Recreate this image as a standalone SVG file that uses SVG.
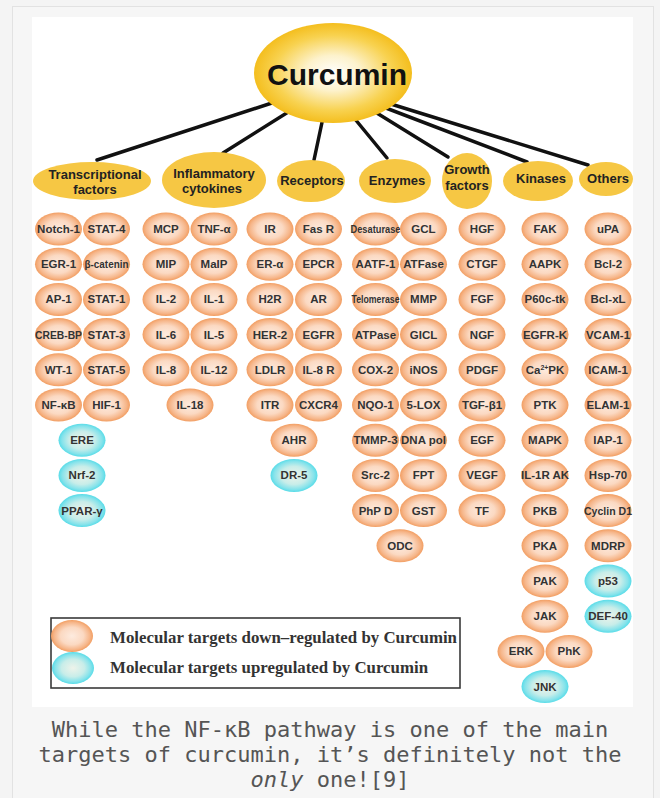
<svg xmlns="http://www.w3.org/2000/svg" width="660" height="798" viewBox="0 0 660 798">
<defs>
<radialGradient id="gCur" cx="50%" cy="50%" r="50%">
<stop offset="0" stop-color="#ffffff"/>
<stop offset="0.35" stop-color="#fdf2cc"/>
<stop offset="0.75" stop-color="#f8d250"/>
<stop offset="1" stop-color="#f4be1e"/>
</radialGradient>
<radialGradient id="gO" cx="50%" cy="50%" r="50%">
<stop offset="0" stop-color="#fdebdf"/>
<stop offset="0.55" stop-color="#fbd9c2"/>
<stop offset="0.85" stop-color="#f6b68a"/>
<stop offset="1" stop-color="#f29e62"/>
</radialGradient>
<radialGradient id="gC" cx="50%" cy="50%" r="50%">
<stop offset="0" stop-color="#eef3ea"/>
<stop offset="0.55" stop-color="#c8ede9"/>
<stop offset="0.85" stop-color="#86e3eb"/>
<stop offset="1" stop-color="#58dce8"/>
</radialGradient>
</defs>
<style>
.o ellipse{fill:url(#gO)}
.c ellipse{fill:url(#gC)}
.n text{font-family:"Liberation Sans",Arial,sans-serif;font-weight:bold;font-size:11.5px;fill:#333;text-anchor:middle}
.n text.sq{font-size:10.5px;text-anchor:start}
.cat ellipse{fill:#f6c744}
.cat text{font-family:"Liberation Sans",Arial,sans-serif;font-weight:bold;font-size:13px;fill:#222;text-anchor:middle}
.conn line{stroke:#111;stroke-width:3.5;stroke-linecap:round}
.leg text{font-family:"Liberation Serif","Times New Roman",serif;font-weight:bold;font-size:17px;fill:#333}
.cap{font-family:"DejaVu Sans Mono","Liberation Mono",monospace;font-size:22px;fill:#555;text-anchor:middle}
</style>
<rect width="660" height="798" fill="#f4f4f4"/>
<rect x="12.5" y="6.5" width="641" height="800" fill="#f6f6f6" stroke="#e2e2e2"/>
<rect x="32" y="17" width="601" height="690" fill="#ffffff"/>

<g id="connectors" class="conn">
<line x1="281" y1="100" x2="97" y2="160"/>
<line x1="301" y1="104" x2="223" y2="153"/>
<line x1="324" y1="113" x2="314" y2="160"/>
<line x1="350" y1="113" x2="387" y2="158"/>
<line x1="359" y1="102" x2="448" y2="157"/>
<line x1="365" y1="100" x2="527" y2="162"/>
<line x1="365" y1="96" x2="588" y2="165"/>
</g>

<g id="curcumin">
<ellipse cx="333" cy="73" rx="79" ry="50" fill="url(#gCur)"/>
<text x="337" y="85" font-family="'Liberation Sans',Arial,sans-serif" font-weight="bold" font-size="30" fill="#111" text-anchor="middle">Curcumin</text>
</g>

<g id="cat-transcriptional" class="cat"><ellipse cx="92" cy="181" rx="59" ry="19"/><text x="95" y="179">Transcriptional</text><text x="95" y="194">factors</text></g>
<g id="cat-inflammatory" class="cat"><ellipse cx="214" cy="180" rx="52" ry="28"/><text x="214" y="178">Inflammatory</text><text x="212" y="193">cytokines</text></g>
<g id="cat-receptors" class="cat"><ellipse cx="311" cy="181" rx="34" ry="21"/><text x="312" y="185">Receptors</text></g>
<g id="cat-enzymes" class="cat"><ellipse cx="395" cy="181" rx="36" ry="22"/><text x="397" y="185">Enzymes</text></g>
<g id="cat-growth" class="cat"><ellipse cx="467" cy="181" rx="25" ry="28"/><text x="467" y="174">Growth</text><text x="467" y="190">factors</text></g>
<g id="cat-kinases" class="cat"><ellipse cx="538" cy="181" rx="35" ry="20"/><text x="541" y="183">Kinases</text></g>
<g id="cat-others" class="cat"><ellipse cx="606" cy="179" rx="27" ry="17"/><text x="608" y="183">Others</text></g>

<!-- Transcriptional factors -->
<g id="n-notch1" class="n o" transform="translate(58.5,229)"><ellipse rx="23.5" ry="16.5"/><text y="4">Notch-1</text></g>
<g id="n-stat4" class="n o" transform="translate(106.5,229)"><ellipse rx="23.5" ry="16.5"/><text y="4">STAT-4</text></g>
<g id="n-egr1" class="n o" transform="translate(58.5,264.2)"><ellipse rx="23.5" ry="16.5"/><text y="4">EGR-1</text></g>
<g id="n-bcatenin" class="n o" transform="translate(106.5,264.2)"><ellipse rx="23.5" ry="16.5"/><text class="sq" x="-22" y="4" textLength="44" lengthAdjust="spacingAndGlyphs">β-catenin</text></g>
<g id="n-ap1" class="n o" transform="translate(58.5,299.4)"><ellipse rx="23.5" ry="16.5"/><text y="4">AP-1</text></g>
<g id="n-stat1" class="n o" transform="translate(106.5,299.4)"><ellipse rx="23.5" ry="16.5"/><text y="4">STAT-1</text></g>
<g id="n-crebbp" class="n o" transform="translate(58.5,334.6)"><ellipse rx="23.5" ry="16.5"/><text class="sq" x="-23.5" y="4" textLength="47" lengthAdjust="spacingAndGlyphs">CREB-BP</text></g>
<g id="n-stat3" class="n o" transform="translate(106.5,334.6)"><ellipse rx="23.5" ry="16.5"/><text y="4">STAT-3</text></g>
<g id="n-wt1" class="n o" transform="translate(58.5,369.8)"><ellipse rx="23.5" ry="16.5"/><text y="4">WT-1</text></g>
<g id="n-stat5" class="n o" transform="translate(106.5,369.8)"><ellipse rx="23.5" ry="16.5"/><text y="4">STAT-5</text></g>
<g id="n-nfkb" class="n o" transform="translate(58.5,405)"><ellipse rx="23.5" ry="16.5"/><text y="4">NF-κB</text></g>
<g id="n-hif1" class="n o" transform="translate(106.5,405)"><ellipse rx="23.5" ry="16.5"/><text y="4">HIF-1</text></g>
<g id="n-ere" class="n c" transform="translate(82,440.2)"><ellipse rx="23.5" ry="16.5"/><text y="4">ERE</text></g>
<g id="n-nrf2" class="n c" transform="translate(82,475.4)"><ellipse rx="23.5" ry="16.5"/><text y="4">Nrf-2</text></g>
<g id="n-pparg" class="n c" transform="translate(82,510.6)"><ellipse rx="23.5" ry="16.5"/><text y="4">PPAR-γ</text></g>

<!-- Inflammatory cytokines -->
<g id="n-mcp" class="n o" transform="translate(166,229)"><ellipse rx="23.5" ry="16.5"/><text y="4">MCP</text></g>
<g id="n-tnfa" class="n o" transform="translate(214,229)"><ellipse rx="23.5" ry="16.5"/><text y="4">TNF-α</text></g>
<g id="n-mip" class="n o" transform="translate(166,264.2)"><ellipse rx="23.5" ry="16.5"/><text y="4">MIP</text></g>
<g id="n-maip" class="n o" transform="translate(214,264.2)"><ellipse rx="23.5" ry="16.5"/><text y="4">MaIP</text></g>
<g id="n-il2" class="n o" transform="translate(166,299.4)"><ellipse rx="23.5" ry="16.5"/><text y="4">IL-2</text></g>
<g id="n-il1" class="n o" transform="translate(214,299.4)"><ellipse rx="23.5" ry="16.5"/><text y="4">IL-1</text></g>
<g id="n-il6" class="n o" transform="translate(166,334.6)"><ellipse rx="23.5" ry="16.5"/><text y="4">IL-6</text></g>
<g id="n-il5" class="n o" transform="translate(214,334.6)"><ellipse rx="23.5" ry="16.5"/><text y="4">IL-5</text></g>
<g id="n-il8" class="n o" transform="translate(166,369.8)"><ellipse rx="23.5" ry="16.5"/><text y="4">IL-8</text></g>
<g id="n-il12" class="n o" transform="translate(214,369.8)"><ellipse rx="23.5" ry="16.5"/><text y="4">IL-12</text></g>
<g id="n-il18" class="n o" transform="translate(190,405)"><ellipse rx="23.5" ry="16.5"/><text y="4">IL-18</text></g>

<!-- Receptors -->
<g id="n-ir" class="n o" transform="translate(270,229)"><ellipse rx="23.5" ry="16.5"/><text y="4">IR</text></g>
<g id="n-fasr" class="n o" transform="translate(318.5,229)"><ellipse rx="23.5" ry="16.5"/><text y="4">Fas R</text></g>
<g id="n-era" class="n o" transform="translate(270,264.2)"><ellipse rx="23.5" ry="16.5"/><text y="4">ER-α</text></g>
<g id="n-epcr" class="n o" transform="translate(318.5,264.2)"><ellipse rx="23.5" ry="16.5"/><text y="4">EPCR</text></g>
<g id="n-h2r" class="n o" transform="translate(270,299.4)"><ellipse rx="23.5" ry="16.5"/><text y="4">H2R</text></g>
<g id="n-ar" class="n o" transform="translate(318.5,299.4)"><ellipse rx="23.5" ry="16.5"/><text y="4">AR</text></g>
<g id="n-her2" class="n o" transform="translate(270,334.6)"><ellipse rx="23.5" ry="16.5"/><text y="4">HER-2</text></g>
<g id="n-egfr" class="n o" transform="translate(318.5,334.6)"><ellipse rx="23.5" ry="16.5"/><text y="4">EGFR</text></g>
<g id="n-ldlr" class="n o" transform="translate(270,369.8)"><ellipse rx="23.5" ry="16.5"/><text y="4">LDLR</text></g>
<g id="n-il8r" class="n o" transform="translate(318.5,369.8)"><ellipse rx="23.5" ry="16.5"/><text y="4">IL-8 R</text></g>
<g id="n-itr" class="n o" transform="translate(270,405)"><ellipse rx="23.5" ry="16.5"/><text y="4">ITR</text></g>
<g id="n-cxcr4" class="n o" transform="translate(318.5,405)"><ellipse rx="23.5" ry="16.5"/><text y="4">CXCR4</text></g>
<g id="n-ahr" class="n o" transform="translate(294,440.2)"><ellipse rx="23.5" ry="16.5"/><text y="4">AHR</text></g>
<g id="n-dr5" class="n c" transform="translate(294,475.4)"><ellipse rx="23.5" ry="16.5"/><text y="4">DR-5</text></g>

<!-- Enzymes -->
<g id="n-desaturase" class="n o" transform="translate(375.5,229)"><ellipse rx="23.5" ry="16.5"/><text class="sq" x="-25" y="4" textLength="50" lengthAdjust="spacingAndGlyphs">Desaturase</text></g>
<g id="n-gcl" class="n o" transform="translate(423.5,229)"><ellipse rx="23.5" ry="16.5"/><text y="4">GCL</text></g>
<g id="n-aatf1" class="n o" transform="translate(375.5,264.2)"><ellipse rx="23.5" ry="16.5"/><text y="4">AATF-1</text></g>
<g id="n-atfase" class="n o" transform="translate(423.5,264.2)"><ellipse rx="23.5" ry="16.5"/><text y="4">ATFase</text></g>
<g id="n-telomerase" class="n o" transform="translate(375.5,299.4)"><ellipse rx="23.5" ry="16.5"/><text class="sq" x="-24" y="4" textLength="48" lengthAdjust="spacingAndGlyphs">Telomerase</text></g>
<g id="n-mmp" class="n o" transform="translate(423.5,299.4)"><ellipse rx="23.5" ry="16.5"/><text y="4">MMP</text></g>
<g id="n-atpase" class="n o" transform="translate(375.5,334.6)"><ellipse rx="23.5" ry="16.5"/><text y="4">ATPase</text></g>
<g id="n-gicl" class="n o" transform="translate(423.5,334.6)"><ellipse rx="23.5" ry="16.5"/><text y="4">GICL</text></g>
<g id="n-cox2" class="n o" transform="translate(375.5,369.8)"><ellipse rx="23.5" ry="16.5"/><text y="4">COX-2</text></g>
<g id="n-inos" class="n o" transform="translate(423.5,369.8)"><ellipse rx="23.5" ry="16.5"/><text y="4">iNOS</text></g>
<g id="n-nqo1" class="n o" transform="translate(375.5,405)"><ellipse rx="23.5" ry="16.5"/><text y="4">NQO-1</text></g>
<g id="n-5lox" class="n o" transform="translate(423.5,405)"><ellipse rx="23.5" ry="16.5"/><text y="4">5-LOX</text></g>
<g id="n-tmmp3" class="n o" transform="translate(375.5,440.2)"><ellipse rx="23.5" ry="16.5"/><text y="4">TMMP-3</text></g>
<g id="n-dnapol" class="n o" transform="translate(423.5,440.2)"><ellipse rx="23.5" ry="16.5"/><text y="4">DNA pol</text></g>
<g id="n-src2" class="n o" transform="translate(375.5,475.4)"><ellipse rx="23.5" ry="16.5"/><text y="4">Src-2</text></g>
<g id="n-fpt" class="n o" transform="translate(423.5,475.4)"><ellipse rx="23.5" ry="16.5"/><text y="4">FPT</text></g>
<g id="n-phpd" class="n o" transform="translate(375.5,510.6)"><ellipse rx="23.5" ry="16.5"/><text y="4">PhP D</text></g>
<g id="n-gst" class="n o" transform="translate(423.5,510.6)"><ellipse rx="23.5" ry="16.5"/><text y="4">GST</text></g>
<g id="n-odc" class="n o" transform="translate(400,545.8)"><ellipse rx="23.5" ry="16.5"/><text y="4">ODC</text></g>

<!-- Growth factors -->
<g id="n-hgf" class="n o" transform="translate(482,229)"><ellipse rx="23.5" ry="16.5"/><text y="4">HGF</text></g>
<g id="n-ctgf" class="n o" transform="translate(482,264.2)"><ellipse rx="23.5" ry="16.5"/><text y="4">CTGF</text></g>
<g id="n-fgf" class="n o" transform="translate(482,299.4)"><ellipse rx="23.5" ry="16.5"/><text y="4">FGF</text></g>
<g id="n-ngf" class="n o" transform="translate(482,334.6)"><ellipse rx="23.5" ry="16.5"/><text y="4">NGF</text></g>
<g id="n-pdgf" class="n o" transform="translate(482,369.8)"><ellipse rx="23.5" ry="16.5"/><text y="4">PDGF</text></g>
<g id="n-tgfb1" class="n o" transform="translate(482,405)"><ellipse rx="23.5" ry="16.5"/><text y="4">TGF-β1</text></g>
<g id="n-egf" class="n o" transform="translate(482,440.2)"><ellipse rx="23.5" ry="16.5"/><text y="4">EGF</text></g>
<g id="n-vegf" class="n o" transform="translate(482,475.4)"><ellipse rx="23.5" ry="16.5"/><text y="4">VEGF</text></g>
<g id="n-tf" class="n o" transform="translate(482,510.6)"><ellipse rx="23.5" ry="16.5"/><text y="4">TF</text></g>

<!-- Kinases -->
<g id="n-fak" class="n o" transform="translate(545,229)"><ellipse rx="23.5" ry="16.5"/><text y="4">FAK</text></g>
<g id="n-aapk" class="n o" transform="translate(545,264.2)"><ellipse rx="23.5" ry="16.5"/><text y="4">AAPK</text></g>
<g id="n-p60ctk" class="n o" transform="translate(545,299.4)"><ellipse rx="23.5" ry="16.5"/><text y="4">P60c-tk</text></g>
<g id="n-egfrk" class="n o" transform="translate(545,334.6)"><ellipse rx="23.5" ry="16.5"/><text y="4">EGFR-K</text></g>
<g id="n-capk" class="n o" transform="translate(545,369.8)"><ellipse rx="23.5" ry="16.5"/><text y="4">Ca<tspan font-size="7" dy="-4">2+</tspan><tspan dy="4">PK</tspan></text></g>
<g id="n-ptk" class="n o" transform="translate(545,405)"><ellipse rx="23.5" ry="16.5"/><text y="4">PTK</text></g>
<g id="n-mapk" class="n o" transform="translate(545,440.2)"><ellipse rx="23.5" ry="16.5"/><text y="4">MAPK</text></g>
<g id="n-il1rak" class="n o" transform="translate(545,475.4)"><ellipse rx="23.5" ry="16.5"/><text y="4">IL-1R AK</text></g>
<g id="n-pkb" class="n o" transform="translate(545,510.6)"><ellipse rx="23.5" ry="16.5"/><text y="4">PKB</text></g>
<g id="n-pka" class="n o" transform="translate(545,545.8)"><ellipse rx="23.5" ry="16.5"/><text y="4">PKA</text></g>
<g id="n-pak" class="n o" transform="translate(545,581)"><ellipse rx="23.5" ry="16.5"/><text y="4">PAK</text></g>
<g id="n-jak" class="n o" transform="translate(545,616.2)"><ellipse rx="23.5" ry="16.5"/><text y="4">JAK</text></g>
<g id="n-erk" class="n o" transform="translate(521,651.4)"><ellipse rx="23.5" ry="16.5"/><text y="4">ERK</text></g>
<g id="n-phk" class="n o" transform="translate(569,651.4)"><ellipse rx="23.5" ry="16.5"/><text y="4">PhK</text></g>
<g id="n-jnk" class="n c" transform="translate(545,686.6)"><ellipse rx="23.5" ry="16.5"/><text y="4">JNK</text></g>

<!-- Others -->
<g id="n-upa" class="n o" transform="translate(608,229)"><ellipse rx="23.5" ry="16.5"/><text y="4">uPA</text></g>
<g id="n-bcl2" class="n o" transform="translate(608,264.2)"><ellipse rx="23.5" ry="16.5"/><text y="4">Bcl-2</text></g>
<g id="n-bclxl" class="n o" transform="translate(608,299.4)"><ellipse rx="23.5" ry="16.5"/><text y="4">Bcl-xL</text></g>
<g id="n-vcam1" class="n o" transform="translate(608,334.6)"><ellipse rx="23.5" ry="16.5"/><text y="4">VCAM-1</text></g>
<g id="n-icam1" class="n o" transform="translate(608,369.8)"><ellipse rx="23.5" ry="16.5"/><text y="4">ICAM-1</text></g>
<g id="n-elam1" class="n o" transform="translate(608,405)"><ellipse rx="23.5" ry="16.5"/><text y="4">ELAM-1</text></g>
<g id="n-iap1" class="n o" transform="translate(608,440.2)"><ellipse rx="23.5" ry="16.5"/><text y="4">IAP-1</text></g>
<g id="n-hsp70" class="n o" transform="translate(608,475.4)"><ellipse rx="23.5" ry="16.5"/><text y="4">Hsp-70</text></g>
<g id="n-cyclind1" class="n o" transform="translate(608,510.6)"><ellipse rx="23.5" ry="16.5"/><text class="sq" x="-24" y="4" textLength="48" lengthAdjust="spacingAndGlyphs">Cyclin D1</text></g>
<g id="n-mdrp" class="n o" transform="translate(608,545.8)"><ellipse rx="23.5" ry="16.5"/><text y="4">MDRP</text></g>
<g id="n-p53" class="n c" transform="translate(608,581)"><ellipse rx="23.5" ry="16.5"/><text y="4">p53</text></g>
<g id="n-def40" class="n c" transform="translate(608,616.2)"><ellipse rx="23.5" ry="16.5"/><text y="4">DEF-40</text></g>

<g id="legend" class="leg">
<rect x="51" y="618" width="409" height="70" fill="#ffffff" stroke="#3a3a3a" stroke-width="1.6"/>
<g class="o"><ellipse cx="72" cy="636" rx="21" ry="16"/></g>
<g class="c"><ellipse cx="73" cy="668" rx="21" ry="16"/></g>
<text x="110" y="643" textLength="347" lengthAdjust="spacingAndGlyphs">Molecular targets down–regulated by Curcumin</text>
<text x="110" y="673" textLength="318" lengthAdjust="spacingAndGlyphs">Molecular targets upregulated by Curcumin</text>
</g>

<g id="caption">
<text class="cap" x="330" y="737">While the NF-κB pathway is one of the main</text>
<text class="cap" x="330" y="762">targets of curcumin, it’s definitely not the</text>
<text class="cap" x="330" y="787"><tspan font-style="italic">only</tspan> one![9]</text>
</g>
</svg>
